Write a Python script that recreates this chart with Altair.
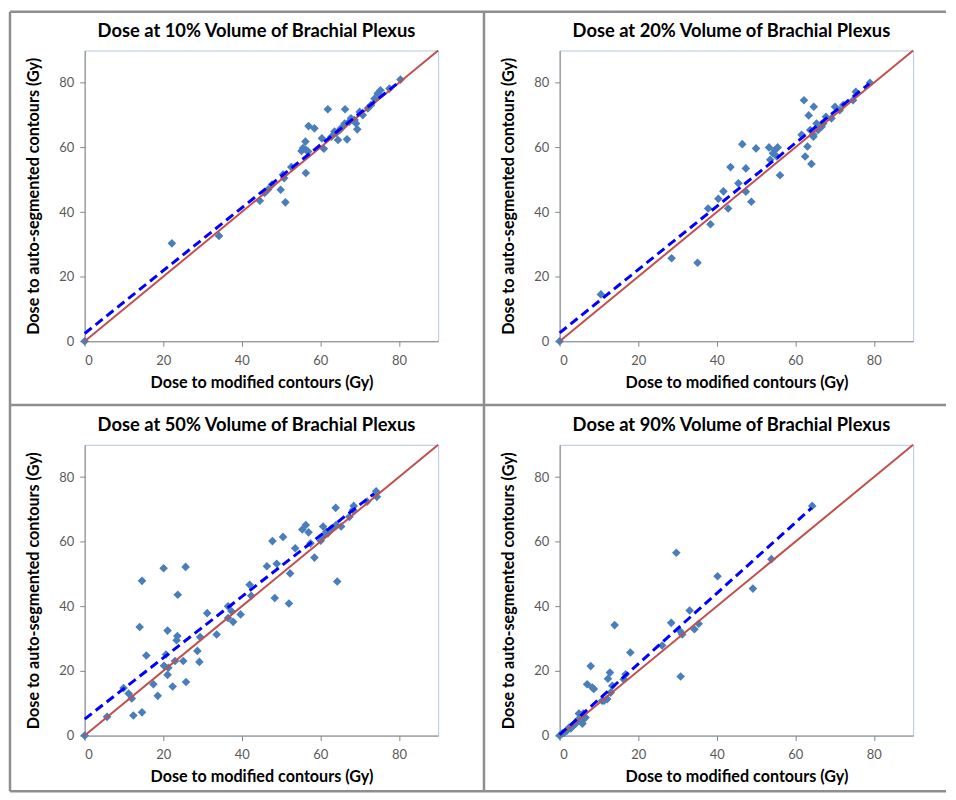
import altair as alt
import pandas as pd

TICKS = [0, 20, 40, 60, 80]
X_TITLE = "Dose to modified contours (Gy)"
Y_TITLE = "Dose to auto-segmented contours (Gy)"

titles = [
    "Dose at 10% Volume of Brachial Plexus",
    "Dose at 20% Volume of Brachial Plexus",
    "Dose at 50% Volume of Brachial Plexus",
    "Dose at 90% Volume of Brachial Plexus",
]

# Panel 1: D10%
x10 = [0, 22.2, 34.2, 44.6, 45.8, 46.7, 47.7, 49.9, 51.1, 50.5, 50.8, 52.6, 55.2, 56.2, 55.6,
       56.4, 56.3, 57.0, 58.5, 56.9, 60.4, 60.9, 61.9, 62.8, 63.6, 64.5, 64.9, 65.7, 66.3, 66.8,
       66.2, 67.4, 68.7, 69.4, 69.1, 70.0, 70.8, 72.1, 72.9, 73.8, 74.6, 75.3, 77.6, 80.4, 65.3,
       64.0, 67.8]
y10 = [0, 30.3, 32.6, 43.5, 45.9, 47.0, 48.5, 46.9, 43.0, 51.6, 50.5, 53.9, 58.9, 61.8, 59.8,
       59.2, 52.1, 66.6, 65.9, 58.7, 62.8, 59.6, 71.8, 63.3, 64.9, 62.3, 65.4, 66.4, 71.8, 62.5,
       67.4, 68.0, 68.5, 65.6, 67.4, 71.0, 70.0, 72.1, 73.1, 75.1, 76.7, 77.7, 78.2, 81.0, 65.9,
       64.4, 69.0]

# Panel 2: D20%
x20 = [0, 10.5, 28.5, 35.1, 37.8, 38.4, 40.4, 41.7, 42.9, 43.5, 45.5, 46.5, 47.4, 47.4, 48.8,
       50.0, 53.3, 53.6, 54.3, 54.8, 55.5, 56.1, 55.3, 62.2, 63.4, 64.7, 61.6, 62.5, 63.1, 64.1,
       63.8, 64.6, 65.4, 65.8, 67.1, 67.8, 69.2, 70.1, 71.3, 72.2, 74.7, 75.4, 79.0, 64.6, 66.7]
y20 = [0, 14.5, 25.7, 24.3, 41.1, 36.2, 44.1, 46.4, 41.1, 53.9, 48.9, 61.0, 53.5, 46.3, 43.2,
       59.7, 60.0, 56.2, 58.2, 59.2, 60.0, 51.4, 57.2, 74.6, 69.9, 72.6, 63.9, 57.2, 60.3, 54.9,
       65.4, 63.3, 67.4, 65.4, 67.4, 69.5, 69.0, 72.6, 71.5, 73.1, 74.6, 77.2, 80.0, 63.9, 66.4]

# Panel 3: D50%
x50 = [0, 5.7, 9.9, 11.2, 12.0, 12.4, 14.0, 14.6, 14.6, 15.7, 17.5, 18.6, 20.1, 20.2, 20.7,
       21.1, 21.1, 21.3, 22.4, 23.0, 23.4, 23.6, 23.7, 25.1, 25.7, 25.8, 28.7, 29.2, 29.4, 31.2,
       33.6, 36.5, 36.5, 37.4, 37.8, 39.7, 42.0, 42.4, 46.4, 47.8, 48.4, 48.9, 50.5, 52.3, 52.0,
       53.6, 55.4, 56.3, 57.0, 58.5, 57.5, 60.1, 60.7, 61.9, 62.8, 63.9, 64.3, 64.0, 65.3, 67.4,
       68.5, 68.3, 71.9, 74.2, 74.4, 60.6, 61.5]
y50 = [0, 5.8, 14.7, 13.0, 11.5, 6.2, 33.6, 47.9, 7.2, 24.8, 15.9, 12.3, 51.8, 21.6, 25.1,
       32.5, 18.8, 21.0, 15.2, 23.1, 29.5, 30.8, 43.6, 23.1, 52.2, 16.6, 26.2, 22.8, 30.5, 37.9,
       31.3, 40.0, 36.4, 38.5, 35.2, 37.5, 46.7, 43.3, 52.4, 60.2, 42.6, 53.2, 61.5, 50.2, 40.9,
       58.0, 63.8, 65.2, 62.9, 55.1, 59.5, 60.3, 64.7, 62.6, 64.1, 70.5, 47.7, 65.2, 64.7, 67.7,
       71.1, 69.8, 72.4, 75.6, 73.9, 61.6, 63.1]

# Panel 4: D90%
x90 = [0, 0.7, 1.9, 2.8, 3.6, 4.1, 4.5, 4.9, 5.3, 5.8, 6.2, 6.0, 7.0, 7.9, 8.3, 8.7, 10.8,
       12.1, 12.3, 12.8, 13.4, 14.0, 13.0, 16.3, 16.8, 18.0, 26.1, 28.4, 29.7, 30.7, 30.8, 31.2,
       33.1, 34.3, 35.4, 40.2, 49.2, 53.9, 64.3, 1.2, 2.4, 3.2, 5.5, 6.6, 11.3]
y90 = [0, 0.7, 1.6, 2.2, 3.2, 3.7, 4.7, 6.8, 4.7, 3.7, 5.2, 6.8, 15.9, 21.5, 14.9, 14.4, 10.8,
       11.3, 17.6, 19.5, 15.4, 34.2, 13.3, 17.4, 19.0, 25.7, 27.9, 34.9, 56.6, 32.3, 18.3, 31.3,
       38.7, 32.9, 34.6, 49.3, 45.5, 54.6, 71.1, 0.9, 2.5, 2.8, 4.2, 5.6, 10.8]

# Fitted trend lines (end points)
trend_x = [[0, 80.4], [0, 78.8], [0, 73.7], [0, 64.2]]
trend_y = [[2.4, 80.6], [2.6, 79.7], [5.1, 74.9], [0.3, 70.5]]

# Line of identity
ident = [0, 90]

W, H = 355, 292
FONT = "Lato"
PT_COLOR = "#4a7ebb"
FRAME = "#8e8e8e"

one = pd.DataFrame({"d": [0]})


def rule(x1, x2, y1, y2):
    return alt.Chart(one).mark_rule(color=FRAME, strokeWidth=2.5).encode(
        x=alt.value(x1), x2=alt.value(x2), y=alt.value(y1), y2=alt.value(y2)
    )


def xs():
    return alt.X("x:Q", scale=alt.Scale(domain=[0, 90], nice=False, zero=False),
                 axis=alt.Axis(values=TICKS, title=X_TITLE))


def ys():
    return alt.Y("y:Q", scale=alt.Scale(domain=[0, 90], nice=False, zero=False),
                 axis=alt.Axis(values=TICKS, title=Y_TITLE))


def panel(title, px, py, tx, ty, frames):
    pts = alt.Chart(pd.DataFrame({"x": px, "y": py})).mark_point(
        shape="diamond", filled=True, size=75, color=PT_COLOR, opacity=1
    ).encode(x=xs(), y=ys())
    idl = alt.Chart(pd.DataFrame({"x": ident, "y": ident})).mark_line(
        color="#c0504d", strokeWidth=2
    ).encode(x=xs(), y=ys())
    trd = alt.Chart(pd.DataFrame({"x": tx, "y": ty})).mark_line(
        color="#0000ff", strokeWidth=3, strokeDash=[9, 5]
    ).encode(x=xs(), y=ys())
    ttl = alt.Chart(pd.DataFrame({"t": [title]})).mark_text(
        font=FONT, fontSize=18.4, fontWeight="bold", color="#000000",
        align="center", baseline="middle"
    ).encode(x=alt.value(W / 2 - 5), y=alt.value(-20), text="t:N")
    layers = [pts, idl, trd, ttl] + [rule(*f) for f in frames]
    return alt.layer(*layers).properties(width=W, height=H)


f1 = [(-75, -75, -39, 356), (-75, 401, -39, -39), (401, 401, -39, 356), (-75, 401, 356, 356)]
f2 = [(-76, 388, -39, -39), (-76, 388, 356, 356)]
f3 = [(-75, -75, -40, 348), (401, 401, -40, 348), (-75, 401, 348, 348)]
f4 = [(-76, 388, 348, 348)]

p1 = panel(titles[0], x10, y10, trend_x[0], trend_y[0], f1)
p2 = panel(titles[1], x20, y20, trend_x[1], trend_y[1], f2)
p3 = panel(titles[2], x50, y50, trend_x[2], trend_y[2], f3)
p4 = panel(titles[3], x90, y90, trend_x[3], trend_y[3], f4)

chart = alt.concat(
    p1, p2, p3, p4, columns=2, spacing={"row": 104, "column": 122}, bounds="flush"
).properties(
    padding=0
).configure_view(
    stroke="#b3c7e6", strokeWidth=1
).configure_axis(
    grid=False,
    domainColor="#868686",
    tickColor="#868686",
    tickSize=5,
    labelFont=FONT,
    labelFontSize=13,
    labelColor="#595959",
    titleFont=FONT,
    titleFontSize=16.2,
    titleFontWeight="bold",
    titleColor="#000000",
).configure_axisX(
    labelPadding=8, titlePadding=7
).configure_axisY(
    labelPadding=6, titlePadding=17
)

chart.save("out.html", embed_options={"renderer": "svg", "actions": False})
